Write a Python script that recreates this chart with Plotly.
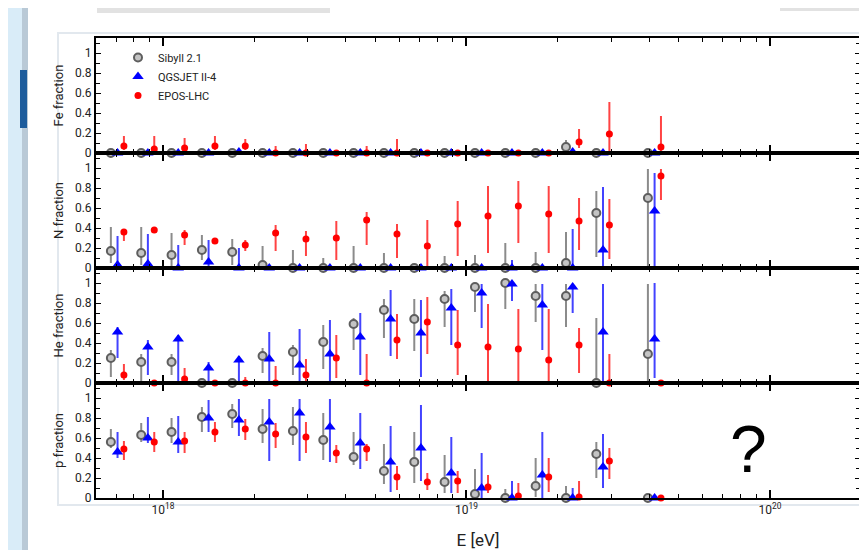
import plotly.graph_objects as go
from plotly.subplots import make_subplots

# ---------------- data ----------------
log_energy = [17.85, 17.95, 18.05, 18.15, 18.25, 18.35, 18.45, 18.55, 18.65,
              18.75, 18.85, 18.95, 19.05, 19.15, 19.25, 19.35, 19.45, 19.62]

models = ["Sibyll 2.1", "QGSJET II-4", "EPOS-LHC"]

# Fe fraction
fe_sib = [0, 0, 0, 0, 0, 0, 0, 0, 0, 0, 0, 0, 0, 0, 0, 0.06, 0, 0]
fe_sib_up = [0.01] * 15 + [0.07, 0.01, 0.01]
fe_sib_dn = [0] * 15 + [0.03, 0, 0]
fe_qgs = [0, 0, 0, 0, 0.01, 0, 0, 0, 0, 0, 0, 0, 0, 0, 0, 0.01, 0, 0]
fe_qgs_up = [0.01] * 18
fe_qgs_dn = [0, 0, 0, 0, 0.01, 0, 0, 0, 0, 0, 0, 0, 0, 0, 0, 0.01, 0, 0]
fe_epos = [0.07, 0.04, 0.05, 0.07, 0.07, 0, 0, 0, 0, 0, 0, 0, 0, 0, 0, 0.11, 0.19, 0.06]
fe_epos_up = [0.10, 0.13, 0.10, 0.10, 0.07, 0.07, 0.09, 0.01, 0.07, 0.14, 0.01, 0.01,
              0.01, 0.01, 0.01, 0.13, 0.32, 0.31]
fe_epos_dn = [0.04, 0.04, 0.03, 0.04, 0.04, 0, 0, 0, 0, 0, 0, 0, 0, 0, 0, 0.06, 0.19, 0.06]

# N fraction
n_sib = [0.17, 0.15, 0.13, 0.18, 0.16, 0.03, 0, 0, 0, 0, 0, 0, 0, 0, 0, 0.05, 0.55, 0.70]
n_sib_up = [0.24, 0.26, 0.22, 0.15, 0.13, 0.19, 0.18, 0.10, 0.22, 0.15, 0.03, 0.12,
            0.13, 0.25, 0.16, 0.31, 0.22, 0.29]
n_sib_dn = [0.12, 0.12, 0.12, 0.10, 0.13, 0.03, 0, 0, 0, 0, 0, 0, 0, 0, 0, 0.05, 0.44, 0.70]
n_qgs = [0.03, 0.04, 0, 0.06, 0, 0, 0, 0, 0, 0, 0, 0, 0, 0, 0, 0, 0.18, 0.57]
n_qgs_up = [0.29, 0.30, 0.23, 0.22, 0.20, 0.02, 0.02, 0.02, 0.02, 0.02, 0.04, 0.02,
            0.02, 0.08, 0.02, 0.39, 0.63, 0.38]
n_qgs_dn = [0.03, 0.04, 0, 0.05, 0, 0, 0, 0, 0, 0, 0, 0, 0, 0, 0, 0, 0.18, 0.57]
n_epos = [0.36, 0.38, 0.33, 0.27, 0.23, 0.35, 0.29, 0.30, 0.48, 0.34, 0.22, 0.44,
          0.52, 0.62, 0.54, 0.47, 0.43, 0.92]
n_epos_up = [0.03, 0.02, 0.05, 0.01, 0.05, 0.08, 0.08, 0.17, 0.08, 0.10, 0.26, 0.23,
             0.30, 0.25, 0.28, 0.23, 0.26, 0.07]
n_epos_dn = [0.09, 0.03, 0.10, 0.03, 0.06, 0.18, 0.17, 0.22, 0.25, 0.24, 0.22, 0.32,
             0.37, 0.37, 0.39, 0.29, 0.34, 0.24]

# He fraction
he_sib = [0.25, 0.21, 0.21, 0, 0, 0.27, 0.31, 0.41, 0.59, 0.73, 0.64, 0.84,
          0.96, 1.0, 0.87, 0.87, 0, 0.29]
he_sib_up = [0.08, 0.08, 0.08, 0.01, 0.01, 0.08, 0.07, 0.17, 0.06, 0.11, 0.20, 0.08,
             0.03, 0.0, 0.12, 0.12, 0.65, 0.70]
he_sib_dn = [0.19, 0.21, 0.13, 0, 0, 0.17, 0.23, 0.27, 0.26, 0.28, 0.32, 0.28,
             0.25, 0.26, 0.26, 0.31, 0, 0.29]
he_qgs = [0.51, 0.36, 0.44, 0.15, 0.23, 0.24, 0.18, 0.29, 0.46, 0.64, 0.50, 0.75,
          0.90, 0.99, 0.78, 0.96, 0.51, 0.44]
he_qgs_up = [0.05, 0.07, 0.04, 0.06, 0.04, 0.27, 0.36, 0.34, 0.24, 0.29, 0.33, 0.19,
             0.09, 0.01, 0.21, 0.03, 0.48, 0.56]
he_qgs_dn = [0.26, 0.28, 0.44, 0.15, 0.23, 0.24, 0.18, 0.29, 0.38, 0.37, 0.44, 0.37,
             0.35, 0.17, 0.45, 0.26, 0.51, 0.39]
he_epos = [0.08, 0, 0.04, 0, 0, 0, 0.08, 0.25, 0, 0.43, 0.61, 0.38,
           0.36, 0.34, 0.23, 0.38, 0, 0]
he_epos_up = [0.11, 0.01, 0.11, 0.01, 0.06, 0.17, 0.16, 0.23, 0.29, 0.26, 0.25, 0.35,
              0.43, 0.40, 0.51, 0.17, 0.29, 0.01]
he_epos_dn = [0.05, 0, 0.04, 0, 0, 0, 0.08, 0.20, 0, 0.19, 0.32, 0.30,
              0.36, 0.34, 0.23, 0.28, 0, 0]

# p fraction
p_sib = [0.56, 0.63, 0.66, 0.81, 0.84, 0.69, 0.67, 0.58, 0.41, 0.27, 0.36, 0.16,
         0.04, 0, 0.12, 0, 0.44, 0]
p_sib_up = [0.13, 0.12, 0.14, 0.10, 0.10, 0.20, 0.24, 0.27, 0.25, 0.27, 0.30, 0.27,
            0.25, 0.09, 0.28, 0.12, 0.12, 0.01]
p_sib_dn = [0.06, 0.07, 0.11, 0.15, 0.14, 0.14, 0.14, 0.20, 0.08, 0.13, 0.21, 0.11,
            0.04, 0, 0.11, 0, 0.24, 0]
p_qgs = [0.46, 0.60, 0.56, 0.80, 0.78, 0.76, 0.85, 0.71, 0.55, 0.36, 0.50, 0.25,
         0.10, 0, 0.23, 0, 0.31, 0]
p_qgs_up = [0.20, 0.21, 0.26, 0.18, 0.21, 0.23, 0.14, 0.28, 0.30, 0.36, 0.43, 0.36,
            0.35, 0.17, 0.43, 0.10, 0.33, 0.01]
p_qgs_dn = [0.06, 0.05, 0.11, 0.14, 0.16, 0.39, 0.48, 0.35, 0.26, 0.30, 0.33, 0.20,
            0.10, 0, 0.23, 0, 0.21, 0]
p_epos = [0.49, 0.56, 0.57, 0.66, 0.69, 0.64, 0.61, 0.45, 0.49, 0.21, 0.16, 0.17,
          0.11, 0.02, 0.21, 0.01, 0.37, 0]
p_epos_up = [0.08, 0.10, 0.09, 0.10, 0.10, 0.11, 0.15, 0.08, 0.05, 0.11, 0.09, 0.10,
             0.12, 0.13, 0.19, 0.16, 0.13, 0.01]
p_epos_dn = [0.11, 0.10, 0.12, 0.10, 0.11, 0.14, 0.16, 0.10, 0.12, 0.13, 0.08, 0.12,
             0.06, 0.02, 0.15, 0.01, 0.18, 0]

panel_titles = ["Fe fraction", "N fraction", "He fraction", "p fraction"]
y_ticks = [0, 0.2, 0.4, 0.6, 0.8, 1]
x_major = [1e18, 1e19, 1e20]
x_major_text = ["10<sup>18</sup>", "10<sup>19</sup>", "10<sup>20</sup>"]

panels = [
    [(fe_sib, fe_sib_up, fe_sib_dn), (fe_qgs, fe_qgs_up, fe_qgs_dn), (fe_epos, fe_epos_up, fe_epos_dn)],
    [(n_sib, n_sib_up, n_sib_dn), (n_qgs, n_qgs_up, n_qgs_dn), (n_epos, n_epos_up, n_epos_dn)],
    [(he_sib, he_sib_up, he_sib_dn), (he_qgs, he_qgs_up, he_qgs_dn), (he_epos, he_epos_up, he_epos_dn)],
    [(p_sib, p_sib_up, p_sib_dn), (p_qgs, p_qgs_up, p_qgs_dn), (p_epos, p_epos_up, p_epos_dn)],
]

# ---------------- styles ----------------
PAGE_OFF = 8                     # default body margin of the html page
W, H = 867 - PAGE_OFF, 550 - PAGE_OFF
# plot area in page pixels: x 96..860, y 38..498
L, R, T, B = 96 - PAGE_OFF, 867 - 860, 38 - PAGE_OFF, 550 - 498
FONT = "Roboto, Lato, sans-serif"

offsets = [-0.022, 0.0, 0.021]
styles = [
    dict(marker=dict(symbol="circle", size=8, color="#c4c4c4", line=dict(width=2, color="#5e5e5e")),
         err="rgba(100,100,100,0.75)"),
    dict(marker=dict(symbol="triangle-up", size=10, color="#0000ff", line=dict(width=0)),
         err="rgba(20,20,255,0.8)"),
    dict(marker=dict(symbol="circle", size=7, color="#ff0000", line=dict(width=0)),
         err="rgba(255,20,20,0.8)"),
]

fig = make_subplots(rows=4, cols=1, shared_xaxes=True, vertical_spacing=0)

for r, panel in enumerate(panels, start=1):
    for m, (vals, up, dn) in enumerate(panel):
        xs = [10.0 ** (e + offsets[m]) for e in log_energy]
        st = styles[m]
        fig.add_trace(go.Scatter(
            x=xs, y=vals, mode="markers", name=models[m],
            marker=st["marker"], cliponaxis=False,
            showlegend=(r == 1), legendgroup=models[m],
            error_y=dict(type="data", symmetric=False, array=up, arrayminus=dn,
                         color=st["err"], thickness=2, width=0),
        ), row=r, col=1)

minor_vals = [k * 10.0 ** d for d in (17, 18, 19, 20) for k in range(2, 10)]

for r in range(1, 5):
    fig.update_xaxes(
        type="log", range=[17.779, 20.297], automargin=False,
        tickvals=x_major, ticktext=x_major_text,
        ticks="inside", ticklen=8, tickwidth=1.5, tickcolor="black",
        minor=dict(tickvals=minor_vals, ticks="inside", ticklen=4, tickwidth=1.2, tickcolor="black"),
        showline=True, linewidth=2, linecolor="black", mirror="allticks",
        showgrid=False, zeroline=False,
        tickfont=dict(family=FONT, size=12, color="#222"),
        row=r, col=1)
    fig.update_yaxes(
        range=[0, 1.15], tickvals=y_ticks, automargin=False,
        ticks="inside", ticklen=5, tickwidth=1.2, tickcolor="black",
        minor=dict(dtick=0.1, tick0=0, ticks="inside", ticklen=4, tickwidth=1, tickcolor="black"),
        showline=True, linewidth=2, linecolor="black", mirror="allticks",
        showgrid=False, zeroline=False,
        tickfont=dict(family=FONT, size=12, color="#222"),
        title=dict(text=panel_titles[r - 1], font=dict(family=FONT, size=13, color="#222"), standoff=8),
        row=r, col=1)

fig.update_xaxes(title=dict(text="E [eV]", font=dict(family=FONT, size=17, color="#222"), standoff=23),
                 row=4, col=1)


def px(x):
    """page pixel x -> paper fraction"""
    return (x - 96) / (860 - 96)


def py(y):
    """page pixel y -> paper fraction"""
    return (498 - y) / (498 - 38)


shapes = [
    # left slide strip
    dict(type="rect", x0=px(0), x1=px(22), y0=py(0), y1=py(560), fillcolor="#d9ecf8", line=dict(width=0)),
    dict(type="rect", x0=px(22), x1=px(28), y0=py(0), y1=py(560), fillcolor="#b9c9d6", line=dict(width=0)),
    dict(type="rect", x0=px(20), x1=px(27), y0=py(70), y1=py(128), fillcolor="#1d5c9c", line=dict(width=0)),
    # top shadow (slide decoration)
    dict(type="rect", x0=px(97), x1=px(870), y0=py(0), y1=py(5), fillcolor="#d6d6d6", line=dict(width=0)),
    dict(type="rect", x0=px(97), x1=px(330), y0=py(5), y1=py(13), fillcolor="#e2e2e2", line=dict(width=0)),
    dict(type="rect", x0=px(780), x1=px(870), y0=py(5), y1=py(11), fillcolor="#e2e2e2", line=dict(width=0)),
    # frame of the picture
    dict(type="rect", x0=px(58), x1=px(863), y0=py(505), y1=py(33), fillcolor="rgba(0,0,0,0)",
         line=dict(width=2, color="#e2e8ee")),
]
for s in shapes:
    s.update(xref="paper", yref="paper", layer="below")

fig.update_layout(
    width=W, height=H,
    margin=dict(l=L, r=R, t=T, b=B, autoexpand=False),
    paper_bgcolor="white", plot_bgcolor="rgba(0,0,0,0)",
    font=dict(family=FONT, color="#222"),
    shapes=shapes,
    showlegend=True,
    legend=dict(x=px(118), y=py(43), xanchor="left", yanchor="top",
                bgcolor="rgba(0,0,0,0)", font=dict(family=FONT, size=11, color="#222"),
                tracegroupgap=0, itemwidth=30),
    annotations=[dict(text="?", x=19.93, y=0.49, xref="x4", yref="y4", showarrow=False,
                      font=dict(family="Liberation Sans, Arial, sans-serif", size=66, color="black"))],
)

fig.write_html("out.html")
